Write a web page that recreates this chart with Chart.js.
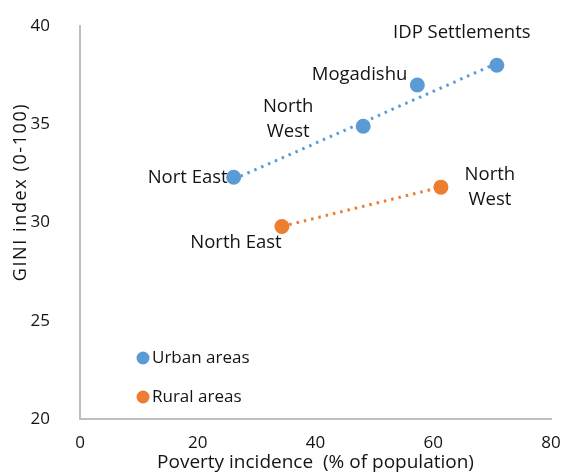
<!DOCTYPE html>
<html lang="en">
<head>
<meta charset="UTF-8">
<title>Poverty vs GINI</title>
<script src="https://cdn.jsdelivr.net/npm/chart.js"></script>
<style>
  html, body { margin: 0; padding: 0; background: #fff; }
  #wrap { width: 566px; height: 474px; }
</style>
</head>
<body>
<div id="wrap"><canvas id="chart" width="566" height="474"></canvas></div>
<script>
// values
const urbanNames = ['Nort East', 'North West', 'Mogadishu', 'IDP Settlements'];
const urbanPoverty = [26.1, 48.1, 57.3, 70.8];
const urbanGini = [32.3, 34.9, 37.0, 38.0];

const ruralNames = ['North East', 'North West'];
const ruralPoverty = [34.3, 61.3];
const ruralGini = [29.8, 31.8];

// dotted trend lines (end points)
const urbanTrendX = [26.1, 70.8];
const urbanTrendY = [32.2, 38.1];
const ruralTrendX = [34.3, 61.3];
const ruralTrendY = [29.8, 31.8];

const xTicks = [0, 20, 40, 60, 80];
const yTicks = [20, 25, 30, 35, 40];

const blue = '#5B9BD5';
const orange = '#ED7D31';
const ink = '#141414';
const FONT = "'Open Sans', sans-serif";

const pts = (xs, ys) => xs.map((x, i) => ({ x: x, y: ys[i] }));

// label placement relative to each point: [dx, dy, align, line gap]
const labelPos = {
  urban: [
    [-6, 0, 'right'],
    [-75, -19, 'center', 25],
    [-10, -10, 'right'],
    [-35, -33, 'center']
  ],
  rural: [
    [-46, 16, 'center'],
    [49, -12, 'center', 25]
  ]
};

const labelsPlugin = {
  id: 'pointLabels',
  afterDatasetsDraw(chart) {
    const c = chart.ctx;
    c.save();
    c.font = '18.5px ' + FONT;
    c.fillStyle = ink;
    c.textBaseline = 'middle';
    const draw = (dsIndex, names, pos) => {
      const meta = chart.getDatasetMeta(dsIndex);
      meta.data.forEach((el, i) => {
        const p = pos[i];
        c.textAlign = p[2];
        const parts = p[3] ? names[i].split(' ') : [names[i]];
        parts.forEach((t, k) => {
          c.fillText(t, el.x + p[0], el.y + p[1] + k * (p[3] || 0));
        });
      });
    };
    draw(2, urbanNames, labelPos.urban);
    draw(3, ruralNames, labelPos.rural);

    // legend inside the plot area
    c.font = '17px ' + FONT;
    const items = [chart.data.datasets[2], chart.data.datasets[3]];
    const lx = 143, ly = [358, 397];
    items.forEach((ds, i) => {
      c.beginPath();
      c.arc(lx, ly[i], 6.5, 0, Math.PI * 2);
      c.fillStyle = ds.backgroundColor;
      c.fill();
      c.fillStyle = ink;
      c.textAlign = 'left';
      c.fillText(ds.label, lx + 9, ly[i]);
    });

    // y axis title, sits a bit above the middle like the original
    c.font = '18px ' + FONT;
    c.letterSpacing = '1.6px';
    c.translate(21, 192);
    c.rotate(-Math.PI / 2);
    c.textAlign = 'center';
    c.fillText('GINI index (0-100)', 0, 0);
    c.restore();
  }
};

new Chart(document.getElementById('chart'), {
  type: 'scatter',
  data: {
    datasets: [
      {
        label: 'Urban trend',
        data: pts(urbanTrendX, urbanTrendY),
        showLine: true,
        borderColor: blue,
        borderWidth: 3,
        borderDash: [2.5, 5],
        pointRadius: 0
      },
      {
        label: 'Rural trend',
        data: pts(ruralTrendX, ruralTrendY),
        showLine: true,
        borderColor: orange,
        borderWidth: 3,
        borderDash: [2.5, 5],
        pointRadius: 0
      },
      {
        label: 'Urban areas',
        data: pts(urbanPoverty, urbanGini),
        backgroundColor: blue,
        borderColor: blue,
        pointRadius: 7.5,
        pointBorderWidth: 0
      },
      {
        label: 'Rural areas',
        data: pts(ruralPoverty, ruralGini),
        backgroundColor: orange,
        borderColor: orange,
        pointRadius: 7.5,
        pointBorderWidth: 0
      }
    ]
  },
  options: {
    responsive: false,
    animation: false,
    layout: { padding: { top: 26, right: 15, left: 0, bottom: 0 } },
    plugins: {
      legend: { display: false },
      tooltip: { enabled: false }
    },
    scales: {
      x: {
        type: 'linear',
        min: 0,
        max: 80,
        afterBuildTicks: (axis) => { axis.ticks = xTicks.map(v => ({ value: v })); },
        afterFit: (axis) => { axis.height = 55; axis.paddingLeft = 0; axis.paddingRight = 0; },
        grid: { display: false },
        border: { color: '#BFBFBF', width: 2 },
        ticks: { color: ink, font: { family: FONT, size: 17 }, padding: 6 },
        title: {
          display: true,
          text: 'Poverty incidence  (% of population)',
          color: ink,
          font: { family: FONT, size: 19 },
          padding: { top: 0, bottom: 0 }
        }
      },
      y: {
        type: 'linear',
        min: 20,
        max: 40,
        afterBuildTicks: (axis) => { axis.ticks = yTicks.map(v => ({ value: v })); },
        afterFit: (axis) => { axis.width = 80; axis.paddingTop = 0; axis.paddingBottom = 0; },
        grid: { display: false },
        border: { color: '#BFBFBF', width: 2 },
        ticks: { color: ink, font: { family: FONT, size: 17 }, padding: 22 }
      }
    }
  },
  plugins: [labelsPlugin]
});
</script>
</body>
</html>
